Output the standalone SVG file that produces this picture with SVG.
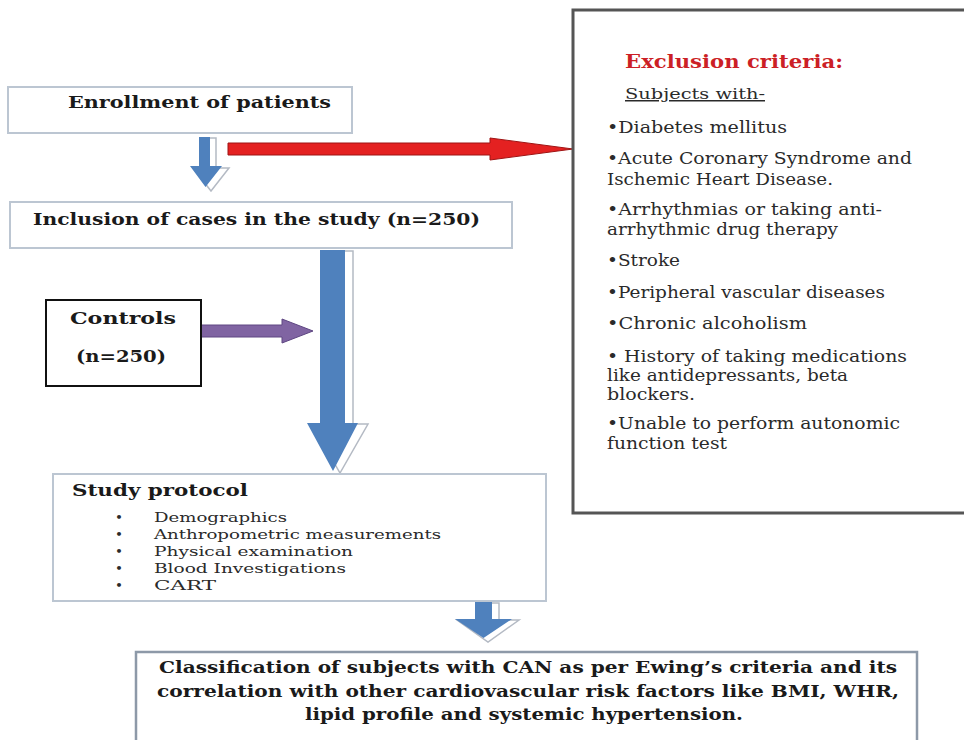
<svg xmlns="http://www.w3.org/2000/svg" width="964" height="740" viewBox="0 0 964 740">
<style>
.bx{fill:#fff;stroke:#bcc6d2;stroke-width:2}
.b{font-family:"DejaVu Serif","Liberation Serif",serif;font-weight:bold;fill:#1a1a1a}
.r{font-family:"DejaVu Serif","Liberation Serif",serif;fill:#2a2a2a}
.blue{fill:#4f81bd}
.sh{fill:#fff;stroke:#b4bac4;stroke-width:1.5}
</style>
<rect width="964" height="740" fill="#fff"/>
<g id="connectors">
  <g id="arrow-enroll-inclusion">
    <path class="sh" d="M204 138 H216 V168 H229 L211 191 L193 168 H204 Z"/>
    <path class="blue" d="M199 137 H210 V166 H222 L205.5 187 L190 166 H199 Z"/>
  </g>
  <g id="arrow-enroll-exclusion">
    <path d="M228 143 H490 V138 L573 149 L490 160 V155 H228 Z" fill="#e42121" stroke="#9e1414" stroke-width="1"/>
  </g>
  <g id="arrow-inclusion-protocol">
    <path class="sh" d="M328 251 H353 V424 H368 L340 473 L312 424 H328 Z"/>
    <path class="blue" d="M320 250 H345 V423 H358 L333 471 L307 423 H320 Z"/>
  </g>
  <g id="arrow-controls">
    <path d="M201 325 H282 V319 L313 331 L282 343 V337 H201 Z" fill="#8064a2" stroke="#5e4682" stroke-width="1"/>
  </g>
  <g id="arrow-protocol-classification">
    <path class="sh" d="M481 603 H499 V620 H519 L488 642 L457 620 H481 Z"/>
    <path class="blue" d="M475 602 H492 V619 H512 L483.5 638 L455 619 H475 Z"/>
  </g>
</g>
<g id="enrollment">
  <rect class="bx" x="8" y="87" width="344" height="46"/>
  <text class="b" x="68" y="108" font-size="17" textLength="263" lengthAdjust="spacingAndGlyphs">Enrollment of patients</text>
</g>
<g id="inclusion">
  <rect class="bx" x="10" y="202" width="502" height="46"/>
  <text class="b" x="33" y="225" font-size="17" textLength="447" lengthAdjust="spacingAndGlyphs">Inclusion of cases in the study (n=250)</text>
</g>
<g id="controls">
  <rect x="46" y="300" width="155" height="86" fill="#fff" stroke="#111" stroke-width="2"/>
  <text class="b" x="70" y="324" font-size="16" textLength="106" lengthAdjust="spacingAndGlyphs">Controls</text>
  <text class="b" x="76" y="362" font-size="16" textLength="90" lengthAdjust="spacingAndGlyphs">(n=250)</text>
</g>
<g id="study-protocol">
  <rect class="bx" x="53" y="474" width="493" height="127" stroke="#a9b5c5"/>
  <text class="b" x="72" y="496" font-size="17" textLength="176" lengthAdjust="spacingAndGlyphs">Study protocol</text>
  <g class="r" font-size="13.5">
    <text x="115" y="522">•</text><text x="154" y="522" textLength="133" lengthAdjust="spacingAndGlyphs">Demographics</text>
    <text x="115" y="539">•</text><text x="154" y="539" textLength="287" lengthAdjust="spacingAndGlyphs">Anthropometric measurements</text>
    <text x="115" y="556">•</text><text x="154" y="556" textLength="199" lengthAdjust="spacingAndGlyphs">Physical examination</text>
    <text x="115" y="573">•</text><text x="154" y="573" textLength="192" lengthAdjust="spacingAndGlyphs">Blood Investigations</text>
    <text x="115" y="590">•</text><text x="154" y="590" textLength="62" lengthAdjust="spacingAndGlyphs">CART</text>
  </g>
</g>
<g id="classification">
  <rect x="136" y="652" width="781" height="100" fill="#fff" stroke="#8d99a8" stroke-width="2.5"/>
  <g class="b" font-size="16" text-anchor="middle">
    <text x="528" y="673" textLength="738" lengthAdjust="spacingAndGlyphs">Classification of subjects with CAN as per Ewing’s criteria and its</text>
    <text x="528" y="697" textLength="742" lengthAdjust="spacingAndGlyphs">correlation with other cardiovascular risk factors like BMI, WHR,</text>
    <text x="524" y="720" textLength="438" lengthAdjust="spacingAndGlyphs">lipid profile and systemic hypertension.</text>
  </g>
</g>
<g id="exclusion">
  <rect x="573" y="10" width="400" height="503" fill="#fff" stroke="#555" stroke-width="3"/>
  <text class="b" x="625" y="68" font-size="18" style="fill:#cc1f26" textLength="218" lengthAdjust="spacingAndGlyphs">Exclusion criteria:</text>
  <text class="r" x="625" y="99" font-size="15" text-decoration="underline" textLength="140" lengthAdjust="spacingAndGlyphs">Subjects with-</text>
  <g class="r" font-size="17">
    <text x="607" y="133" textLength="180" lengthAdjust="spacingAndGlyphs">•Diabetes mellitus</text>
    <text x="607" y="164" textLength="305" lengthAdjust="spacingAndGlyphs">•Acute Coronary Syndrome and</text>
    <text x="607" y="185" textLength="226" lengthAdjust="spacingAndGlyphs">Ischemic Heart Disease.</text>
    <text x="607" y="215" textLength="275" lengthAdjust="spacingAndGlyphs">•Arrhythmias or taking anti-</text>
    <text x="607" y="235" textLength="231" lengthAdjust="spacingAndGlyphs">arrhythmic drug therapy</text>
    <text x="607" y="266" textLength="73" lengthAdjust="spacingAndGlyphs">•Stroke</text>
    <text x="607" y="298" textLength="278" lengthAdjust="spacingAndGlyphs">•Peripheral vascular diseases</text>
    <text x="607" y="329" textLength="200" lengthAdjust="spacingAndGlyphs">•Chronic alcoholism</text>
    <text x="607" y="362" textLength="300" lengthAdjust="spacingAndGlyphs">• History of taking medications</text>
    <text x="607" y="381" textLength="241" lengthAdjust="spacingAndGlyphs">like antidepressants, beta</text>
    <text x="607" y="400" textLength="88" lengthAdjust="spacingAndGlyphs">blockers.</text>
    <text x="607" y="429" textLength="293" lengthAdjust="spacingAndGlyphs">•Unable to perform autonomic</text>
    <text x="607" y="449" textLength="120" lengthAdjust="spacingAndGlyphs">function test</text>
  </g>
</g>
</svg>
